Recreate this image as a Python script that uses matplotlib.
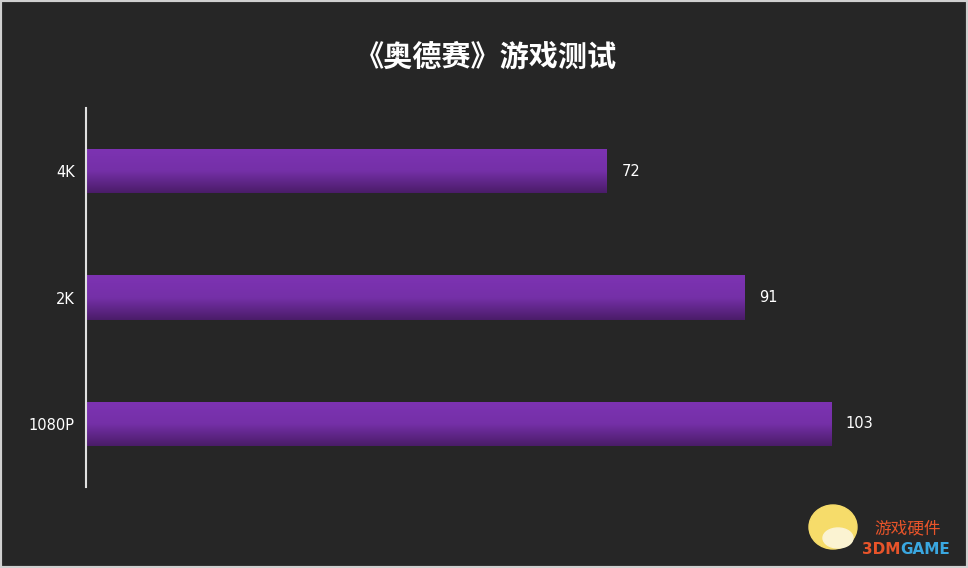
import numpy as np
import matplotlib.pyplot as plt
from matplotlib.colors import LinearSegmentedColormap
from matplotlib.patches import Rectangle, Ellipse

plt.rcParams['font.family'] = ['Noto Sans CJK SC', 'DejaVu Sans']

categories = ["4K", "2K", "1080P"]
fps = [72, 91, 103]
title = "《奥德赛》游戏测试"

bg = '#262626'
fig = plt.figure(figsize=(9.68, 5.68), dpi=100, facecolor=bg)
fig.patches.append(Rectangle((0, 0), 1, 1, transform=fig.transFigure,
                             fill=False, edgecolor='#d0d0d0', linewidth=3))

W, H = 968, 568
ax = fig.add_axes([86 / W, (H - 487) / H, (900 - 86) / W, 379 / H])
ax.set_facecolor(bg)

y = np.arange(len(categories))
bars = ax.barh(y, fps, height=0.35, color='none', edgecolor='none')

# vertical gradient in each bar
cmap = LinearSegmentedColormap.from_list('purp', ['#7d33b3', '#7530a8', '#4a1c68'])
grad = np.linspace(0, 1, 256).reshape(-1, 1)
for b in bars:
    x0, y0 = b.get_x(), b.get_y()
    w, h = b.get_width(), b.get_height()
    im = ax.imshow(grad, cmap=cmap, aspect='auto', origin='upper',
                   extent=[x0, x0 + w, y0 + h, y0], zorder=2)
    im.set_clip_path(b)

for yi, v in zip(y, fps):
    ax.text(v + 2.0, yi, str(v), color='white', va='center', ha='left',
            fontsize=10.5, family='DejaVu Sans')

ax.set_xlim(0, (900 - 86) / 7.236)
ax.set_ylim(2.5, -0.5)
ax.set_yticks(y)
ax.set_yticklabels(categories, color='white', fontsize=10.5, family='DejaVu Sans')
ax.tick_params(axis='y', length=0, pad=8)
ax.set_xticks([])
for s in ['top', 'right', 'bottom']:
    ax.spines[s].set_visible(False)
ax.spines['left'].set_color('#e0e0e0')
ax.spines['left'].set_linewidth(1.5)

fig.text(486 / W, 1 - 57 / H, title, color='white', fontsize=21,
         fontweight='bold', ha='center', va='center')

# watermark
fig.patches.append(Ellipse((833 / W, 1 - 527 / H), 48 / W, 44 / H,
                           transform=fig.transFigure, color='#f6dc6a'))
fig.patches.append(Ellipse((838 / W, 1 - 538 / H), 30 / W, 20 / H,
                           transform=fig.transFigure, color='#fbf3d2'))
fig.text(874 / W, 1 - 529 / H, "游戏硬件", color='#e8542a', fontsize=12,
         ha='left', va='center')
fig.text(900 / W, 1 - 549 / H, "3DM", color='#e8542a', fontsize=11,
         fontweight='bold', ha='right', va='center', family='DejaVu Sans')
fig.text(900 / W, 1 - 549 / H, "GAME", color='#3aa7e0', fontsize=11,
         fontweight='bold', ha='left', va='center', family='DejaVu Sans')

fig.savefig('out.png', dpi=100, facecolor=bg)
